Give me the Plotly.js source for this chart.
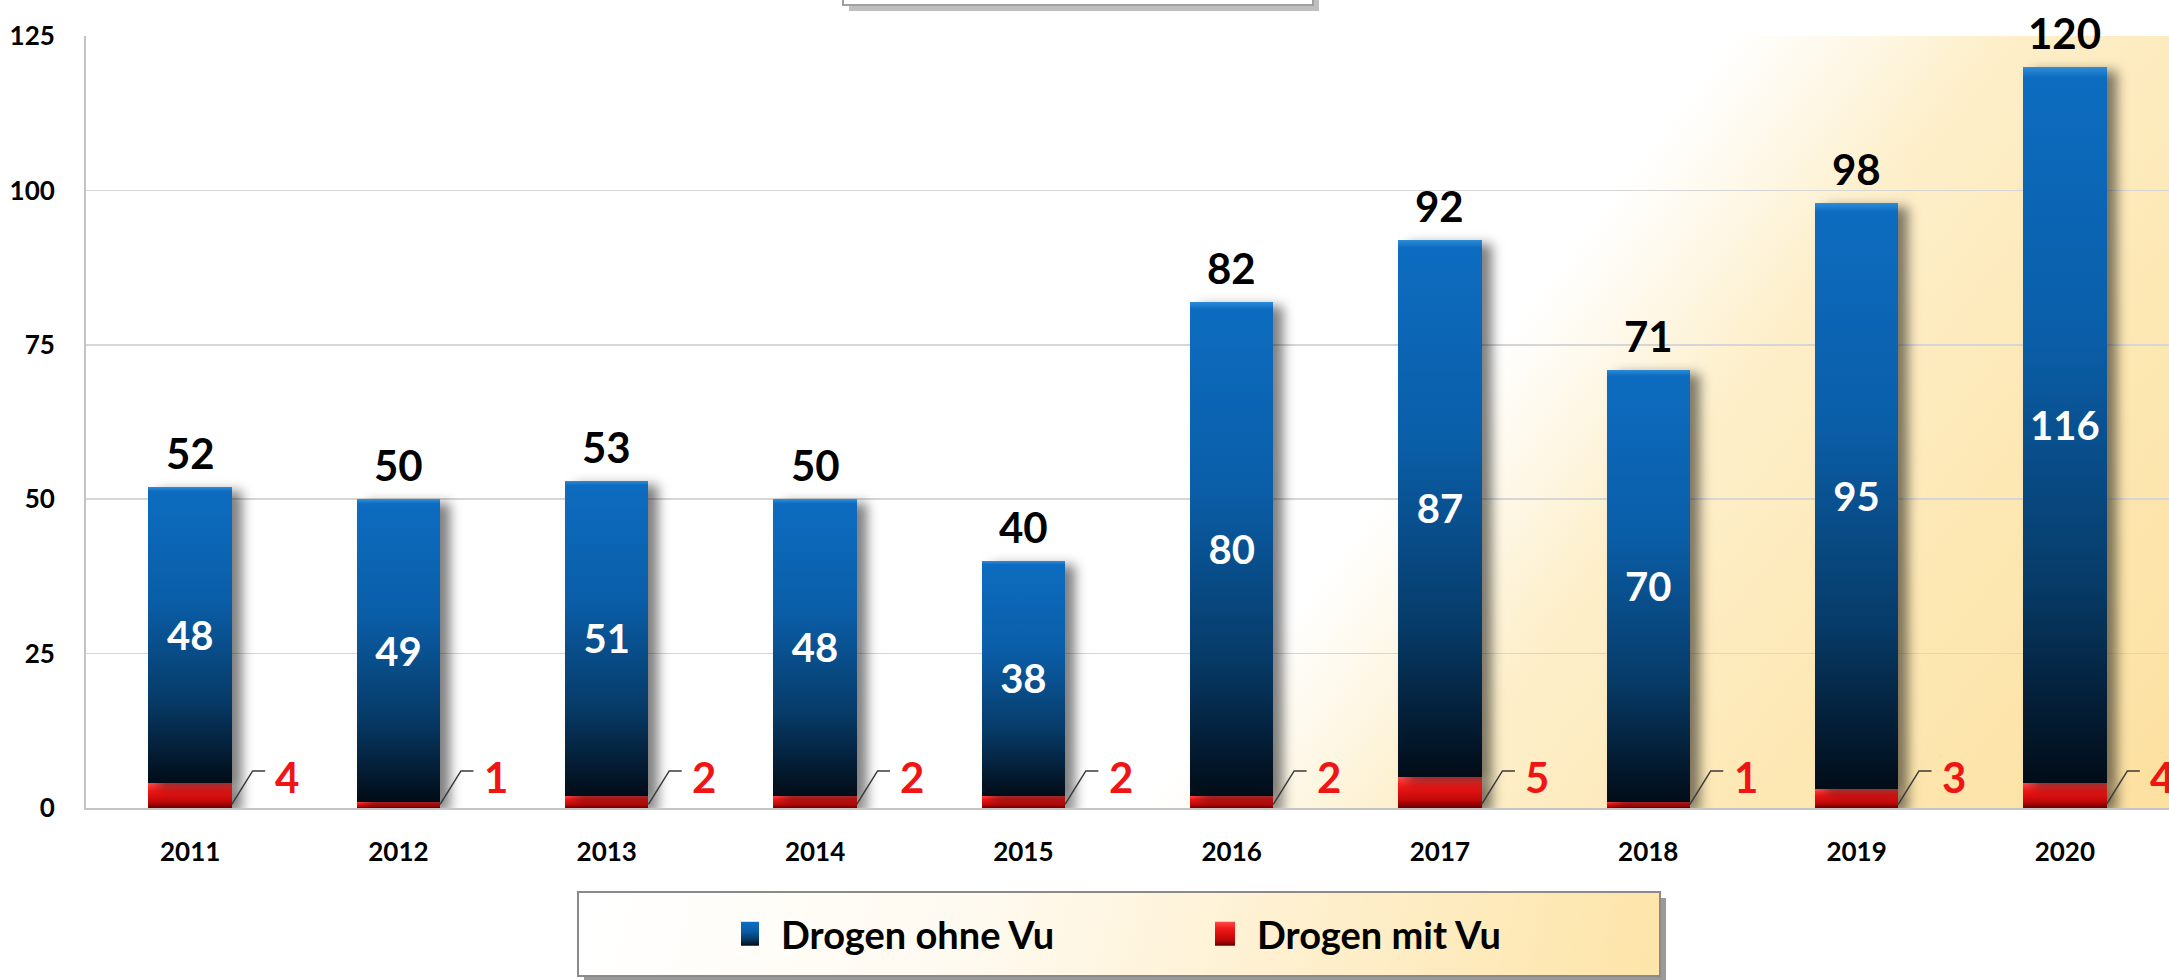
<!DOCTYPE html>
<html>
<head>
<meta charset="utf-8">
<script src="https://cdn.plot.ly/plotly-3.0.1.min.js"></script>
<style>
  html, body { margin: 0; padding: 0; background: #ffffff; }
  #chart { width: 2169px; height: 980px; }
</style>
</head>
<body>
<div id="chart"></div>
<script>
// values
const years = ['2011', '2012', '2013', '2014', '2015', '2016', '2017', '2018', '2019', '2020'];
const ohneVu = [48, 49, 51, 48, 38, 80, 87, 70, 95, 116];
const mitVu = [4, 1, 2, 2, 2, 2, 5, 1, 3, 4];
const totals = [52, 50, 53, 50, 40, 82, 92, 71, 98, 120];

const FONT = 'Lato, "Open Sans", sans-serif';
const BLUE = '#0b5ea8';
const RED = '#e01010';
const idx = years.map((_, i) => i);

// plot area size in px (used for the paper-ref pieces)
const W = 2169, H = 980;
const M = { l: 86, r: 0, t: 36, b: 172 };
const PW = W - M.l - M.r, PH = H - M.t - M.b;
const px = x => (x - M.l) / PW;
const py = y => (H - M.b - y) / PH;

function gradientImage(w, h, x0, y0, x1, y1, stops) {
  const c = document.createElement('canvas');
  c.width = w; c.height = h;
  const ctx = c.getContext('2d');
  const g = ctx.createLinearGradient(x0, y0, x1, y1);
  stops.forEach(s => g.addColorStop(s[0], s[1]));
  ctx.fillStyle = g;
  ctx.fillRect(0, 0, w, h);
  return c.toDataURL();
}

const plotBg = gradientImage(PW, PH, 1040, 794, 1689, 1289,
  [[0, '#ffffff'], [0.1, '#fef9ec'], [0.26, '#fdefca'], [0.6, '#fde8b4'], [1, '#fce0a0']]);
const legendBg = gradientImage(1082, 84, 0, 0, 1082, 260,
  [[0, '#ffffff'], [0.35, '#fffaf0'], [1, '#fde3a4']]);

// legend box and the cut-off box at the top
const lg = { x0: px(578), x1: px(1660), y0: py(976), y1: py(892) };
const tb = { x0: px(843), x1: px(1313), y0: py(5), y1: py(-60) };
const sx = 6 / PW, sy = 6 / PH;

const redTrace = {
  type: 'bar', name: 'Drogen mit Vu',
  x: idx, y: mitVu, width: 0.4,
  marker: { color: RED, line: { width: 0 } },
  textposition: 'none', hoverinfo: 'skip'
};

const blueTrace = {
  type: 'bar', name: 'Drogen ohne Vu',
  x: idx, y: ohneVu, width: 0.4,
  marker: { color: BLUE, line: { width: 0 } },
  text: ohneVu.map(String),
  textposition: 'inside', insidetextanchor: 'middle', textangle: 0,
  constraintext: 'none',
  insidetextfont: { family: FONT, size: 40, color: '#ffffff', weight: 700 },
  hoverinfo: 'skip'
};

// leader lines from the red segment to its label
const lx = [], ly = [];
idx.forEach(i => {
  lx.push(i + 0.2, i + 0.3, i + 0.36, null);
  ly.push(0.6, 6.0, 6.0, null);
});
const leaderTrace = {
  type: 'scatter', mode: 'lines', x: lx, y: ly,
  line: { color: '#3a3a3a', width: 1.5 },
  showlegend: false, hoverinfo: 'skip', cliponaxis: false
};

const totalNotes = idx.map(i => ({
  x: i, y: totals[i], text: String(totals[i]),
  showarrow: false, yanchor: 'bottom', yshift: 7,
  font: { family: FONT, size: 42, color: '#000000', weight: 700 }
}));

const redNotes = idx.map(i => ({
  x: i + 0.4, y: 5.0, text: String(mitVu[i]),
  showarrow: false, xanchor: 'left', yanchor: 'middle',
  font: { family: FONT, size: 42, color: '#f01414', weight: 700 }
}));

const layout = {
  width: W, height: H,
  margin: M,
  barmode: 'stack',
  paper_bgcolor: '#ffffff',
  plot_bgcolor: 'rgba(0,0,0,0)',
  font: { family: FONT, color: '#000000' },
  xaxis: {
    range: [-0.5, 9.5],
    tickvals: idx, ticktext: years,
    showgrid: false, zeroline: false,
    showline: true, linecolor: '#c4c4c4', linewidth: 2,
    ticks: '', ticklabelstandoff: 20,
    tickfont: { family: FONT, size: 26, color: '#000000', weight: 700 }
  },
  yaxis: {
    range: [0, 125], dtick: 25, tick0: 0,
    showgrid: true, gridcolor: '#d6d6d6', gridwidth: 1.5,
    zeroline: false,
    showline: true, linecolor: '#c4c4c4', linewidth: 2,
    ticks: '', ticklabelstandoff: 24,
    tickfont: { family: FONT, size: 26, color: '#000000', weight: 700 }
  },
  showlegend: true,
  legend: {
    orientation: 'h', traceorder: 'reversed',
    x: px(741), xanchor: 'left',
    y: py(934), yanchor: 'middle',
    bgcolor: 'rgba(0,0,0,0)', borderwidth: 0,
    entrywidth: 431,
    font: { family: FONT, size: 38, color: '#000000', weight: 700 }
  },
  images: [
    { source: plotBg, xref: 'paper', yref: 'paper', x: 0, y: 1, sizex: 1, sizey: 1,
      xanchor: 'left', yanchor: 'top', sizing: 'stretch', layer: 'below' },
    { source: legendBg, xref: 'paper', yref: 'paper', x: lg.x0, y: lg.y1,
      sizex: lg.x1 - lg.x0, sizey: lg.y1 - lg.y0,
      xanchor: 'left', yanchor: 'top', sizing: 'stretch', layer: 'above' }
  ],
  shapes: [
    { type: 'rect', xref: 'paper', yref: 'paper', layer: 'below',
      x0: lg.x0 + sx, x1: lg.x1 + sx, y0: lg.y0 - sy, y1: lg.y1 - sy,
      fillcolor: 'rgba(0,0,0,0.4)', line: { width: 0 } },
    { type: 'rect', xref: 'paper', yref: 'paper', layer: 'above',
      x0: lg.x0, x1: lg.x1, y0: lg.y0, y1: lg.y1,
      fillcolor: 'rgba(0,0,0,0)', line: { color: '#8a8a8a', width: 2 } },
    { type: 'rect', xref: 'paper', yref: 'paper', layer: 'below',
      x0: tb.x0 + sx, x1: tb.x1 + sx, y0: tb.y0 - sy, y1: tb.y1,
      fillcolor: 'rgba(0,0,0,0.25)', line: { width: 0 } },
    { type: 'rect', xref: 'paper', yref: 'paper', layer: 'above',
      x0: tb.x0, x1: tb.x1, y0: tb.y0, y1: tb.y1,
      fillcolor: '#ffffff', line: { color: '#a0a0a0', width: 2 } }
  ],
  annotations: totalNotes.concat(redNotes)
};

// swap flat bar colours for vertical gradients + drop shadow
function decorate(gd) {
  const NS = 'http://www.w3.org/2000/svg';
  const defs = gd.querySelector('.main-svg defs');
  function addGrad(id, stops) {
    const g = document.createElementNS(NS, 'linearGradient');
    g.setAttribute('id', id);
    g.setAttribute('x1', '0'); g.setAttribute('y1', '0');
    g.setAttribute('x2', '0'); g.setAttribute('y2', '1');
    stops.forEach(s => {
      const st = document.createElementNS(NS, 'stop');
      st.setAttribute('offset', s[0]);
      st.setAttribute('stop-color', s[1]);
      g.appendChild(st);
    });
    defs.appendChild(g);
  }
  addGrad('gradBlue', [[0, '#2f8ed9'], [0.015, '#0d6cc0'], [0.38, '#0a5ea8'], [0.72, '#073b68'], [1, '#020c17']]);
  addGrad('gradRed', [[0, '#ff4a4a'], [0.3, '#f01818'], [0.75, '#c00808'], [1, '#6a0000']]);

  const blueRgb = 'rgb(11, 94, 168)';
  const redRgb = 'rgb(224, 16, 16)';
  gd.querySelectorAll('.barlayer .point path').forEach(p => {
    if (p.style.fill === blueRgb) p.style.fill = 'url(#gradBlue)';
    else if (p.style.fill === redRgb) p.style.fill = 'url(#gradRed)';
    p.style.filter = 'drop-shadow(10px 4px 6px rgba(0,0,0,0.5))';
  });
  gd.querySelectorAll('.legend .legendpoints path').forEach(p => {
    if (p.style.fill === blueRgb) p.style.fill = 'url(#gradBlue)';
    else if (p.style.fill === redRgb) p.style.fill = 'url(#gradRed)';
    p.setAttribute('d', 'M-22,-12H-2V12H-22Z');
  });
}

Plotly.newPlot('chart', [redTrace, blueTrace, leaderTrace], layout, { staticPlot: true })
  .then(decorate);
</script>
</body>
</html>
